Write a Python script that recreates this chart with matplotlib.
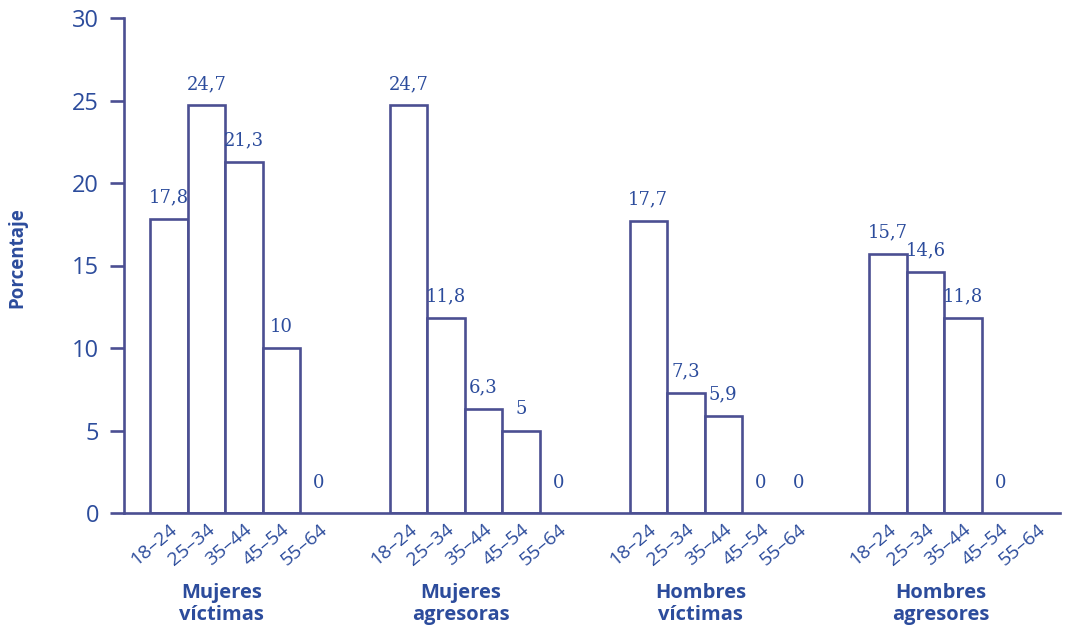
import matplotlib.pyplot as plt
import matplotlib.transforms as mtransforms
import numpy as np

# data
grupos = ['Mujeres\nvíctimas', 'Mujeres\nagresoras', 'Hombres\nvíctimas', 'Hombres\nagresores']
edades = ['18–24', '25–34', '35–44', '45–54', '55–64']
mujeres_victimas = [17.8, 24.7, 21.3, 10, 0]
mujeres_agresoras = [24.7, 11.8, 6.3, 5, 0]
hombres_victimas = [17.7, 7.3, 5.9, 0, 0]
hombres_agresores = [15.7, 14.6, 11.8, 0, np.nan]  # last one has no label
valores = [mujeres_victimas, mujeres_agresoras, hombres_victimas, hombres_agresores]

azul = '#2c4c9c'
borde = '#4b4f92'

fig = plt.figure(figsize=(10.69, 6.31), dpi=100)
ax = fig.add_axes([124 / 1069, 1 - 513 / 631, 936 / 1069, 495 / 631])

inicio = 0.7
paso = 6.39
ticks = []
ticklabels = []
for g, serie in enumerate(valores):
    x0 = inicio + g * paso
    xs = x0 + np.arange(len(edades)) + 0.5
    for x, v in zip(xs, serie):
        if np.isnan(v):
            continue
        if v > 0:
            ax.bar(x, v, width=1, facecolor='white', edgecolor=borde, linewidth=1.9)
        lab = ('%g' % v).replace('.', ',')
        ax.annotate(lab, (x, v), xytext=(0, 9 if v > 0 else 15), textcoords='offset points',
                    ha='center', va='bottom', color=azul, fontsize=13, family='DejaVu Serif')
    ticks.extend(xs)
    ticklabels.extend(edades)
    trans = mtransforms.blended_transform_factory(ax.transData, fig.transFigure)
    ax.text(x0 + 1.9, 1 - 604 / 631, grupos[g], transform=trans, ha='center', va='center',
            color=azul, fontsize=14.5, fontweight='bold', family='Open Sans', linespacing=1.1)

ax.set_xlim(0, 24.96)
ax.set_ylim(0, 30)
ax.set_yticks([0, 5, 10, 15, 20, 25, 30])
ax.set_xticks(ticks)
ax.set_xticklabels(ticklabels, rotation=40, ha='right', va='top', rotation_mode='anchor',
                   color=azul, fontsize=14, family='Open Sans')
shift = mtransforms.ScaledTranslation(-5 / 100, 0, fig.dpi_scale_trans)
for t in ax.get_xticklabels():
    t.set_transform(t.get_transform() + shift)
ax.tick_params(axis='x', length=0, pad=5)
ax.tick_params(axis='y', length=10, width=1.9, color=borde, pad=8, labelcolor=azul, labelsize=17)
for t in ax.get_yticklabels():
    t.set_family('Open Sans')

for s in ['top', 'right']:
    ax.spines[s].set_visible(False)
for s in ['left', 'bottom']:
    ax.spines[s].set_color(borde)
    ax.spines[s].set_linewidth(1.9)

fig.text(17 / 1069, 1 - 258 / 631, 'Porcentaje', rotation=90, ha='center', va='center',
         color=azul, fontsize=13.5, fontweight='bold', family='Open Sans')

plt.savefig('out.png', dpi=100)
